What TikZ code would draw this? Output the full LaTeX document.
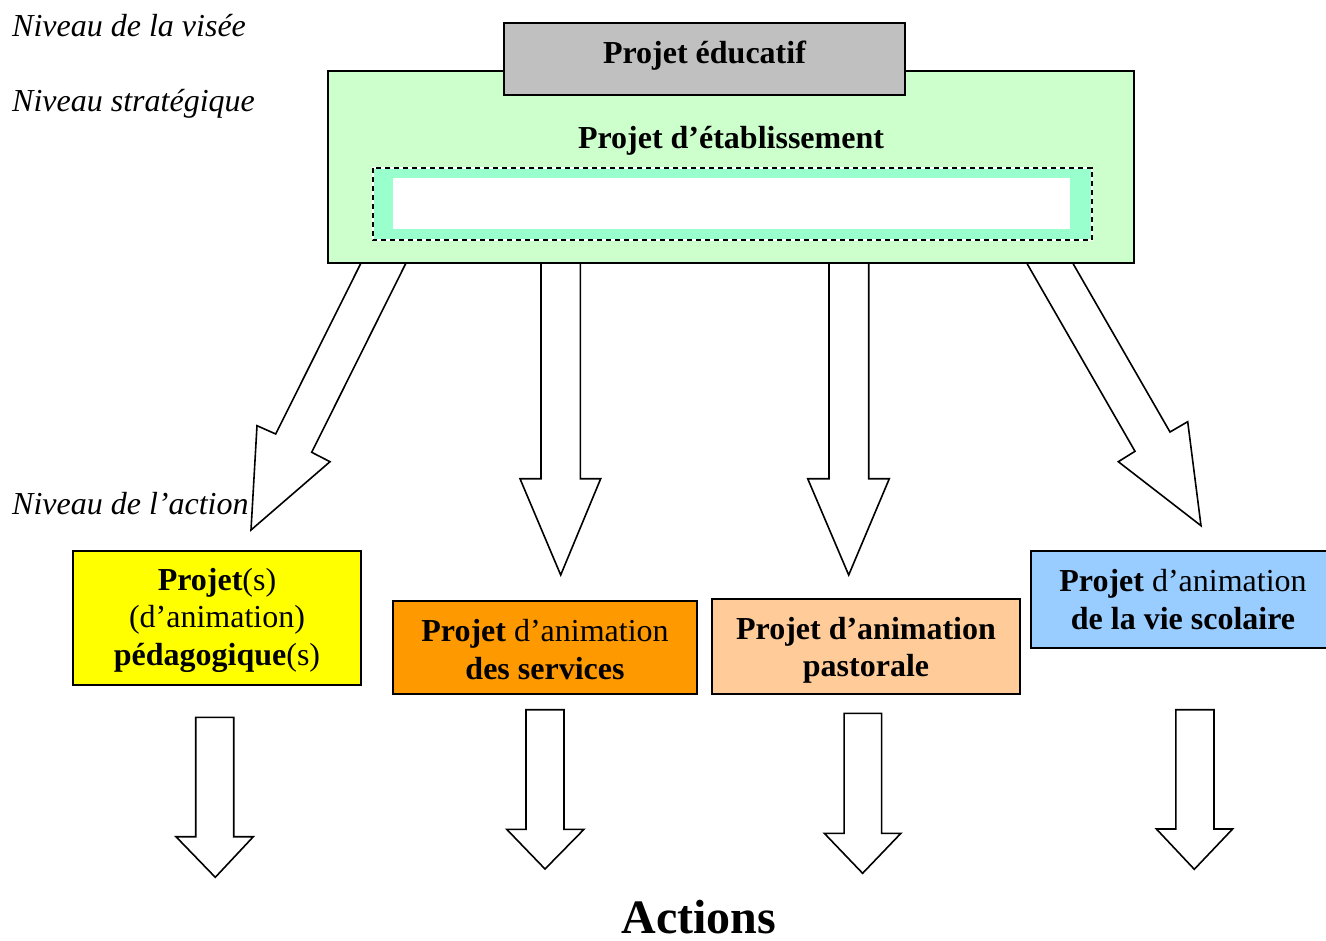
\documentclass[tikz,border=0pt]{standalone}
\usepackage{fontspec}
\setmainfont{Liberation Serif}
\definecolor{cgrey}{HTML}{C0C0C0}
\definecolor{cgreen}{HTML}{CCFFCC}
\definecolor{caqua}{HTML}{99FFCC}
\definecolor{cyellow}{HTML}{FFFF00}
\definecolor{corange}{HTML}{FF9900}
\definecolor{cpeach}{HTML}{FFCC99}
\definecolor{cblue}{HTML}{99CCFF}
\begin{document}
\begin{tikzpicture}[x=1pt,y=-1pt,
  box/.style={draw=black,line width=2pt,inner sep=0pt,outer sep=0pt},
  blockarrow/.style={draw=black,fill=white,line width=1.6pt,line join=miter},
  lvl/.style={anchor=base west,font=\fontsize{32}{37}\selectfont\itshape,inner sep=0pt},
  boxtext/.style={font=\fontsize{32}{37.5}\selectfont,align=center,inner sep=0pt},
  title/.style={anchor=base,font=\fontsize{32}{37.5}\selectfont\bfseries,inner sep=0pt}]
\useasboundingbox (0,0) rectangle (1326,941);
\fill[white] (0,0) rectangle (1326,941);

% level labels
\node[lvl] (lv1) at (12,37) {Niveau de la visée};
\node[lvl] (lv2) at (12,112) {Niveau stratégique};

% strategic box
\node[box,fill=cgreen,minimum width=806pt,minimum height=192pt] (etab) at (731,167) {};
\node[box,fill=cgrey,minimum width=401pt,minimum height=72pt] (educ) at (704.5,59) {};
\node[title] (educt) at (704.5,63.5) {Projet éducatif};
\node[title] (etabt) at (731,148.5) {Projet d’établissement};

% inner frame
\node[fill=caqua,inner sep=0pt,minimum width=719pt,minimum height=72pt] (frame) at (732.5,204) {};
\draw[white,line width=1.6pt] (frame.north west) rectangle (frame.south east);
\draw[black,line width=1.6pt,dash pattern=on 5pt off 4pt] (frame.north west) rectangle (frame.south east);
\fill[white] (393,178) rectangle (1070,229);

% upper block arrows
\draw[blockarrow] (361,263) -- (275.7,434) -- (257,425.7) -- (251,530) -- (330,461.7) -- (311.7,452.3) -- (406,263) -- cycle;
\draw[blockarrow] (541,263) -- (541,478.7) -- (520,478.7) -- (560.7,575) -- (600.7,478.7) -- (580.3,478.7) -- (580.3,263) -- cycle;
\draw[blockarrow] (829,263) -- (829,478.7) -- (807.7,478.7) -- (848.7,575) -- (889.3,478.7) -- (868.7,478.7) -- (868.7,263) -- cycle;
\draw[blockarrow] (1026.7,263) -- (1135,451.3) -- (1118.3,461.7) -- (1201,525.7) -- (1187.7,421.7) -- (1170,432) -- (1072.7,263) -- cycle;

\node[lvl] (lv3) at (12,514) {Niveau de l’action};

% action level boxes
\node[box,fill=cyellow,minimum width=288pt,minimum height=134pt] (ped) at (217,618) {};
\node[boxtext] at ([yshift=-2pt]ped.center) {\textbf{Projet}(s)\\(d’animation)\\\textbf{pédagogique}(s)};
\node[box,fill=corange,minimum width=304pt,minimum height=93pt] (serv) at (545,647.5) {};
\node[boxtext] at ([yshift=-2pt]serv.center) {\textbf{Projet} d’animation\\\textbf{des services}};
\node[box,fill=cpeach,minimum width=308pt,minimum height=95pt] (past) at (866,646.5) {};
\node[boxtext] at ([yshift=-4pt]past.center) {\textbf{Projet d’animation}\\\textbf{pastorale}};
\node[box,fill=cblue,minimum width=304pt,minimum height=97pt] (vie) at (1183,599.5) {};
\node[boxtext] at (vie.center) {\textbf{Projet} d’animation\\\textbf{de la vie scolaire}};

% lower block arrows
\draw[blockarrow] (195.7,717.3) -- (195.7,836.7) -- (176,836.7) -- (215.3,877.3) -- (253.3,836.7) -- (233.7,836.7) -- (233.7,717.3) -- cycle;
\draw[blockarrow] (526,709.7) -- (526,829.3) -- (506.7,829.3) -- (545,869) -- (584,829.3) -- (564,829.3) -- (564,709.7) -- cycle;
\draw[blockarrow] (844.1,713.3) -- (844.1,833.3) -- (824.3,833.3) -- (862.6,873.3) -- (900.9,833.3) -- (881.6,833.3) -- (881.6,713.3) -- cycle;
\draw[blockarrow] (1175.8,709.7) -- (1175.8,829) -- (1156.4,829) -- (1194.3,869.3) -- (1232.6,829) -- (1214,829) -- (1214,709.7) -- cycle;

\node[anchor=base,inner sep=0pt,font=\fontsize{48}{55}\selectfont\bfseries] (act) at (699,933) {Actions};
\end{tikzpicture}
\end{document}
